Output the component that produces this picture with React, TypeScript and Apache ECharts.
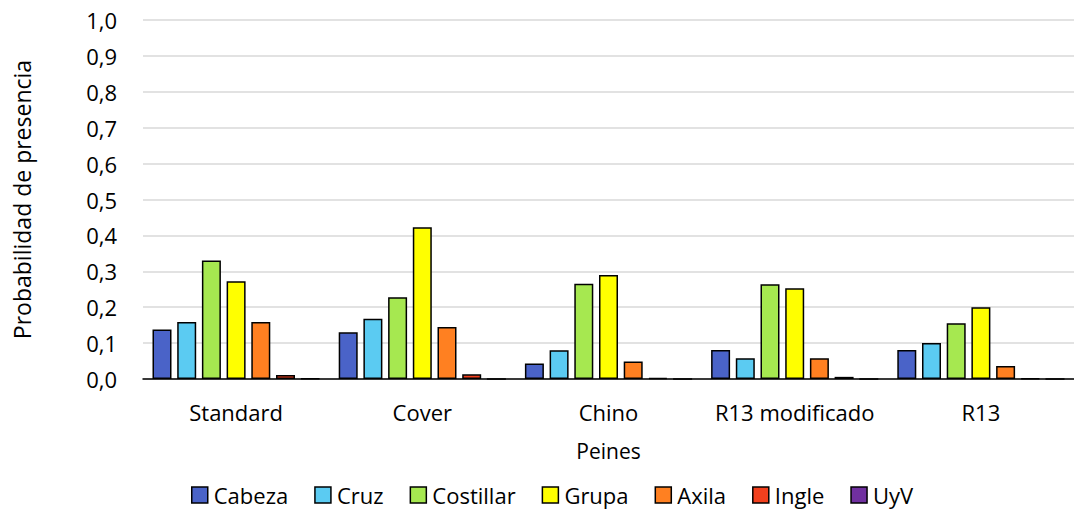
import React, { useEffect, useRef } from "react";
import * as echarts from "echarts";

const categories = ["Standard", "Cover", "Chino", "R13 modificado", "R13"];
const seriesNames = ["Cabeza", "Cruz", "Costillar", "Grupa", "Axila", "Ingle", "UyV"];
const colors = ["#4A63C8", "#5BCBF2", "#A6E850", "#FFFF00", "#FF8021", "#F2401E", "#7030A0"];

const cabeza = [0.138, 0.13, 0.043, 0.081, 0.081];
const cruz = [0.159, 0.168, 0.08, 0.058, 0.1];
const costillar = [0.33, 0.228, 0.265, 0.264, 0.155];
const grupa = [0.272, 0.423, 0.29, 0.253, 0.2];
const axila = [0.159, 0.145, 0.049, 0.058, 0.036];
const ingle = [0.011, 0.013, 0.003, 0.006, 0.002];
const uyv = [0.001, 0.0, 0.0, 0.0, 0.0];

const values = [cabeza, cruz, costillar, grupa, axila, ingle, uyv];

const FONT = "Open Sans";

export default function App() {
  const ref = useRef<HTMLDivElement>(null);

  useEffect(() => {
    if (!ref.current) return;
    const chart = echarts.init(ref.current, undefined, { renderer: "svg" });
    chart.setOption({
      animation: false,
      textStyle: { fontFamily: FONT },
      grid: { left: 143, width: 937, top: 20, bottom: 130 },
      legend: {
        data: seriesNames,
        left: 186,
        top: 479,
        itemWidth: 16,
        itemHeight: 16,
        itemGap: 26,
        icon: "rect",
        itemStyle: { borderColor: "#000", borderWidth: 1.5 },
        textStyle: { fontFamily: FONT, fontSize: 22, color: "#000", padding: [0, 0, 0, 1] },
      },
      xAxis: {
        type: "category",
        data: categories,
        name: "Peines",
        nameLocation: "middle",
        nameGap: 61,
        nameTextStyle: { fontFamily: FONT, fontSize: 21, color: "#000" },
        axisLine: { lineStyle: { color: "#000", width: 1.5 } },
        axisTick: { show: false },
        axisLabel: { interval: 0, fontFamily: FONT, fontSize: 22, color: "#000", margin: 22 },
      },
      yAxis: {
        type: "value",
        min: 0,
        max: 1,
        interval: 0.1,
        name: "Probabilidad de presencia",
        nameLocation: "middle",
        nameGap: 110,
        nameTextStyle: { fontFamily: FONT, fontSize: 23, color: "#000" },
        axisLine: { show: false },
        axisTick: { show: false },
        axisLabel: {
          fontFamily: FONT,
          fontSize: 22,
          color: "#000",
          margin: 26,
          formatter: (v: number) => v.toFixed(1).replace(".", ","),
        },
        splitLine: { lineStyle: { color: "#D9D9D9", width: 1.5 } },
      },
      series: seriesNames.map((name, i) => ({
        name,
        type: "bar",
        data: values[i],
        barWidth: 19,
        barGap: "30%",
        itemStyle: { color: colors[i], borderColor: "#000", borderWidth: 1.5 },
      })),
    });
    return () => chart.dispose();
  }, []);

  return <div ref={ref} style={{ width: 1074, height: 509, position: "absolute", left: 0, top: 0 }} />;
}
